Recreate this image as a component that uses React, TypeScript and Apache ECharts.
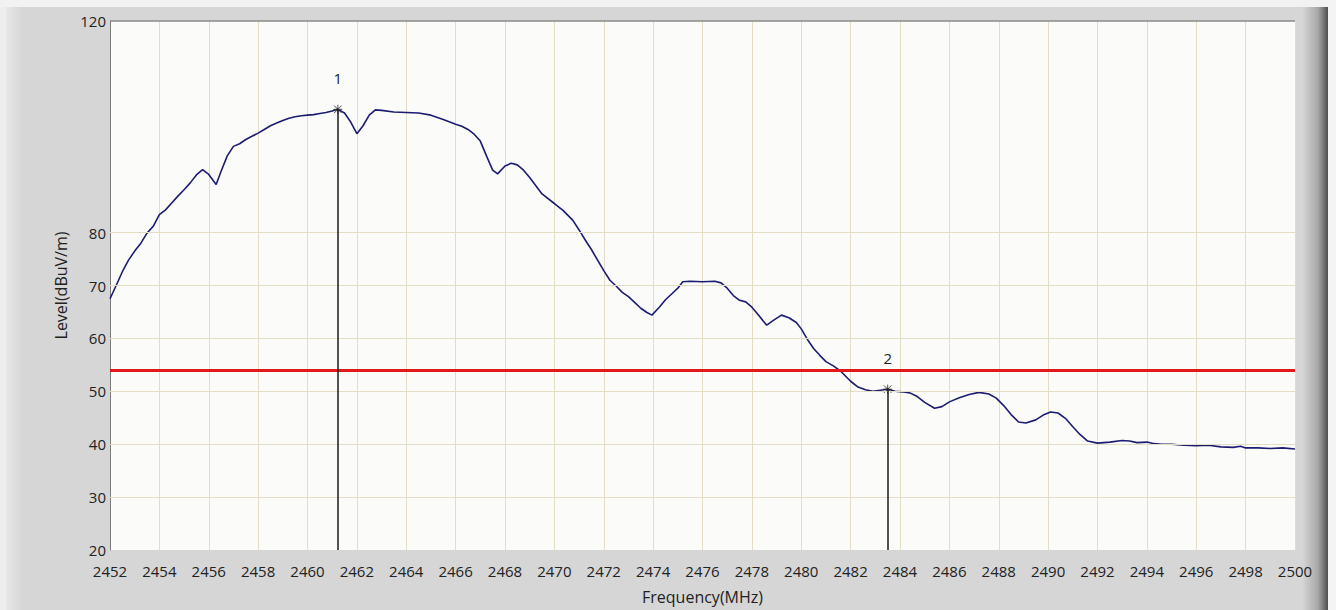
import React, { useEffect, useRef } from "react";
import * as echarts from "echarts";

const freqMHz = [
  2452.0, 2452.25, 2452.5, 2452.75, 2453.0, 2453.25, 2453.5, 2453.75, 2454.0, 2454.25,
  2454.5, 2454.75, 2455.0, 2455.25, 2455.5, 2455.75, 2456.0, 2456.3, 2456.5, 2456.75,
  2457.0, 2457.25, 2457.5, 2457.75, 2458.0, 2458.25, 2458.5, 2458.75, 2459.0, 2459.25,
  2459.5, 2459.75, 2460.0, 2460.25, 2460.5, 2460.75, 2461.0, 2461.23, 2461.5, 2461.75,
  2462.0, 2462.25, 2462.5, 2462.75, 2463.0, 2463.5, 2464.0, 2464.5, 2465.0, 2465.5,
  2466.0, 2466.25, 2466.5, 2466.75, 2467.0, 2467.25, 2467.5, 2467.7, 2468.0, 2468.25,
  2468.5, 2468.75, 2469.0, 2469.5, 2470.0, 2470.35, 2470.75, 2471.0, 2471.25, 2471.5,
  2472.0, 2472.25, 2472.5, 2472.75, 2473.0, 2473.25, 2473.5, 2473.75, 2473.95, 2474.25,
  2474.5, 2474.75, 2475.0, 2475.2, 2475.5, 2476.0, 2476.5, 2476.75, 2477.0, 2477.25,
  2477.5, 2477.75, 2478.0, 2478.25, 2478.6, 2478.9, 2479.2, 2479.5, 2479.8, 2480.0,
  2480.25, 2480.5, 2480.75, 2481.0, 2481.3, 2481.6, 2482.0, 2482.3, 2482.6, 2482.9,
  2483.2, 2483.5, 2483.8, 2484.1, 2484.4, 2484.7, 2485.0, 2485.4, 2485.7, 2486.0,
  2486.4, 2486.8, 2487.2, 2487.6, 2487.9, 2488.2, 2488.5, 2488.8, 2489.1, 2489.5,
  2489.8, 2490.1, 2490.4, 2490.7, 2491.0, 2491.3, 2491.6, 2492.0, 2492.5, 2493.0,
  2493.3, 2493.6, 2494.0, 2494.3, 2494.6, 2495.0, 2495.5, 2496.0, 2496.5, 2497.0,
  2497.5, 2497.8, 2498.0, 2498.5, 2499.0, 2499.5, 2500.0,
];

const levelDbuv = [
  67.5, 70.0, 72.6, 74.8, 76.5, 78.0, 79.9, 81.2, 83.4, 84.3,
  85.6, 86.9, 88.1, 89.4, 90.9, 91.9, 91.0, 89.1, 91.6, 94.5,
  96.3, 96.8, 97.6, 98.2, 98.8, 99.5, 100.2, 100.7, 101.2, 101.6,
  101.9, 102.1, 102.2, 102.3, 102.5, 102.7, 103.0, 103.3, 102.6, 100.9,
  98.7, 100.2, 102.2, 103.2, 103.1, 102.8, 102.7, 102.6, 102.2, 101.4,
  100.5, 100.1, 99.5, 98.6, 97.3, 94.5, 91.8, 91.1, 92.6, 93.1,
  92.8, 91.8, 90.4, 87.3, 85.5, 84.2, 82.3, 80.5, 78.6, 76.8,
  72.8, 71.0, 69.9, 68.7, 67.9, 66.8, 65.7, 64.9, 64.4, 65.9,
  67.3, 68.4, 69.5, 70.7, 70.8, 70.7, 70.8, 70.5, 69.5, 68.1,
  67.2, 66.9, 65.9, 64.5, 62.5, 63.5, 64.4, 63.9, 63.0, 61.8,
  59.8, 58.1, 56.8, 55.6, 54.8, 53.8, 51.9, 50.8, 50.3, 50.0,
  50.2, 50.4, 50.0, 49.9, 49.7, 49.0, 47.9, 46.8, 47.1, 48.0,
  48.8, 49.4, 49.8, 49.5, 48.7, 47.3, 45.6, 44.2, 44.0, 44.6,
  45.5, 46.1, 45.9, 44.9, 43.3, 41.8, 40.6, 40.2, 40.4, 40.7,
  40.6, 40.3, 40.4, 40.1, 40.0, 40.0, 39.8, 39.7, 39.8, 39.5,
  39.4, 39.6, 39.3, 39.3, 39.2, 39.3, 39.1,
];

const limitLevel = 54;
const markerFreqs = [2461.23, 2483.5];
const markerLevels = [103.3, 50.4];
const markerLabels = ["1", "2"];
const gridLevels = [30, 40, 50, 60, 70, 80];
const yLabelsShown = [20, 30, 40, 50, 60, 70, 80, 120];
const xMin = 2452;
const xMax = 2500;
const xStep = 2;
const yMin = 20;
const yMax = 120;
const yStep = 10;

const FONT = "Open Sans";

export default function App() {
  const ref = useRef<HTMLDivElement>(null);
  useEffect(() => {
    document.body.style.margin = "0";
    document.body.style.overflow = "hidden";
    document.documentElement.style.overflow = "hidden";
    const chart = echarts.init(ref.current!, undefined, { renderer: "svg" });
    const trace = freqMHz.map((f, i) => [f, levelDbuv[i]]);
    chart.setOption({
      animation: false,
      backgroundColor: "#d6d6d6",
      graphic: [
        { type: "rect", z: -100, shape: { x: 0, y: 0, width: 1336, height: 7 }, style: { fill: "#f2f2f2" } },
        { type: "rect", z: -100, shape: { x: 0, y: 7, width: 6, height: 603 }, style: { fill: "#eeeeee" } },
        {
          type: "rect", z: -100, shape: { x: 6, y: 7, width: 16, height: 603 },
          style: { fill: new echarts.graphic.LinearGradient(0, 0, 1, 0, [{ offset: 0, color: "#e8e8e8" }, { offset: 1, color: "#d6d6d6" }]) },
        },
        {
          type: "rect", z: -100, shape: { x: 1303, y: 7, width: 25, height: 603 },
          style: { fill: new echarts.graphic.LinearGradient(0, 0, 1, 0, [{ offset: 0, color: "#d4d4d4" }, { offset: 0.6, color: "#a8a8a8" }, { offset: 1, color: "#4e4e4e" }]) },
        },
        { type: "rect", z: -100, shape: { x: 1328, y: 0, width: 8, height: 610 }, style: { fill: "#f4f4f4" } },
      ],
      grid: {
        left: 110, top: 21, right: 41, bottom: 60,
        outerBoundsMode: "none",
        containLabel: false,
        show: true, backgroundColor: "#fbfbf9", borderWidth: 0,
      },
      xAxis: {
        type: "value", min: xMin, max: xMax, interval: xStep,
        name: "Frequency(MHz)", nameLocation: "middle", nameGap: 39,
        nameTextStyle: { color: "#222", fontSize: 16, fontFamily: FONT },
        axisLine: { show: false }, axisTick: { show: false },
        axisLabel: { color: "#222", fontSize: 15, fontFamily: FONT, margin: 13, formatter: (v: number) => String(v) },
        splitLine: { show: true, lineStyle: { color: "#e2ddc4", width: 1 } },
      },
      yAxis: {
        type: "value", min: yMin, max: yMax, interval: yStep,
        name: "Level(dBuV/m)", nameLocation: "middle", nameGap: 40, nameRotate: 90,
        nameTextStyle: { color: "#222", fontSize: 16, fontFamily: FONT },
        axisLine: { show: true, lineStyle: { color: "#7c7c7c", width: 1 } },
        axisTick: { show: false },
        axisLabel: {
          color: "#222", fontSize: 15, fontFamily: FONT, margin: 4,
          formatter: (v: number) => (yLabelsShown.includes(v) ? String(v) : ""),
        },
        splitLine: { show: false },
      },
      series: [
        {
          type: "line", data: [], silent: true, z: 1,
          markLine: {
            silent: true, symbol: "none", label: { show: false },
            lineStyle: { color: "#e2ddc4", width: 1, type: "solid" },
            data: [
              ...gridLevels.map((v) => ({ yAxis: v })),
              { yAxis: yMax, lineStyle: { color: "#8a8a8a", width: 1.5 } },
            ],
          },
        },
        {
          type: "line", data: trace, showSymbol: false, z: 3,
          lineStyle: { color: "#1c1c72", width: 1.6 },
          markLine: {
            silent: true, symbol: "none", label: { show: false },
            data: [
              { yAxis: limitLevel, lineStyle: { color: "#e01a1a", width: 3, type: "solid" } },
              ...markerFreqs.map((f, i) => [
                {
                  coord: [f, yMin],
                  lineStyle: { color: "#1a1a1a", width: 1.5, type: "solid" },
                  label: {
                    show: true, position: "end", distance: 24,
                    formatter: markerLabels[i],
                    color: "#222222", fontSize: 15, fontFamily: FONT,
                  },
                },
                { coord: [f, markerLevels[i]] },
              ]),
            ],
          },
        },
        {
          type: "scatter", z: 4, silent: true,
          data: markerFreqs.map((f, i) => [f, markerLevels[i]]),
          symbol: "path://M0,0L10,10M10,0L0,10M5,-1L5,11M-1,5L11,5",
          symbolSize: 9,
          itemStyle: { color: "#222222", borderColor: "#222222", borderWidth: 1 },
        },
      ],
    });
    return () => chart.dispose();
  }, []);
  return <div ref={ref} style={{ width: 1336, height: 610, overflow: "hidden" }} />;
}
